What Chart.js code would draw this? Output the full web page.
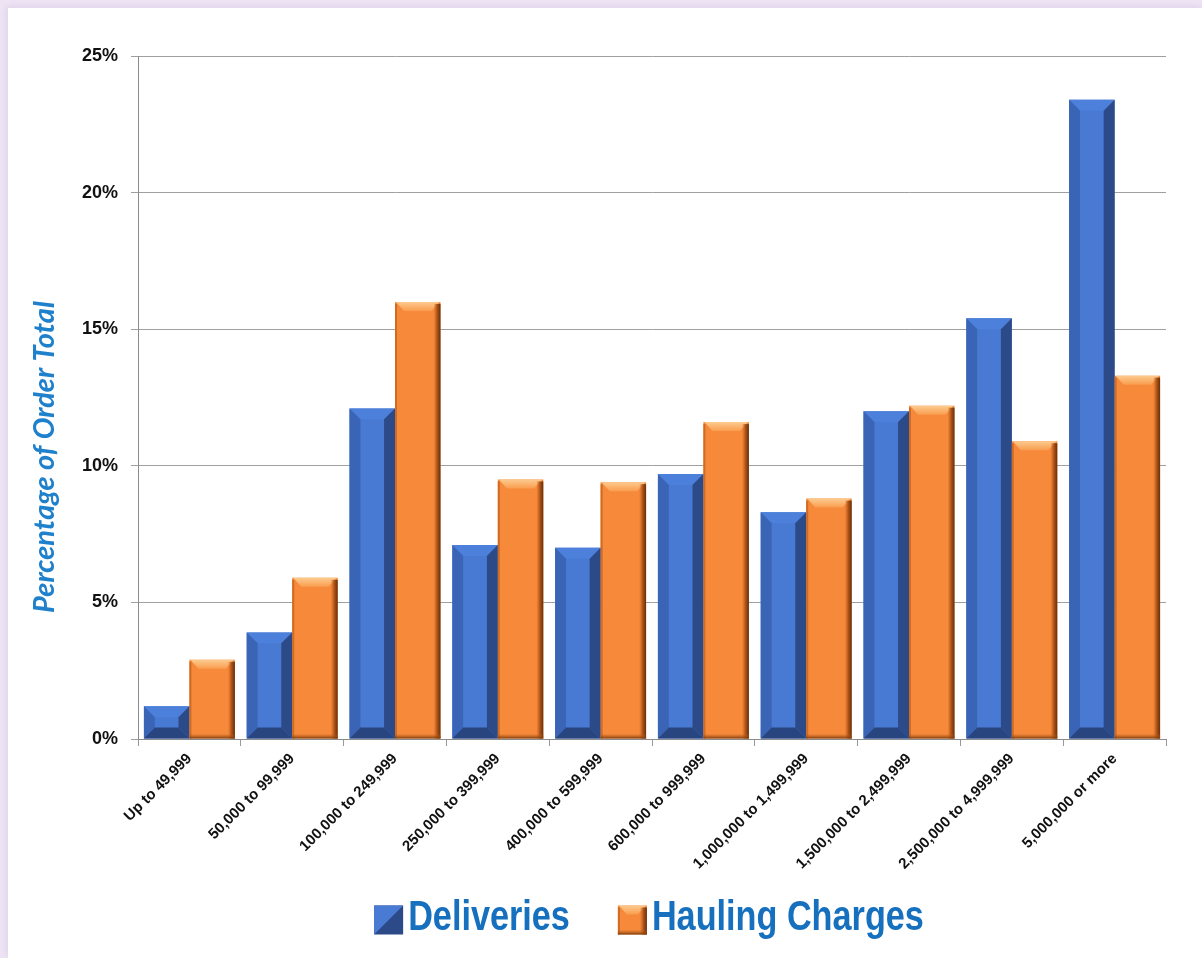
<!DOCTYPE html>
<html>
<head>
<meta charset="utf-8">
<script src="https://cdn.jsdelivr.net/npm/chart.js@4.4.0/dist/chart.umd.min.js"></script>
<style>
html, body { margin: 0; padding: 0; }
body { width: 1202px; height: 958px; background: #ede4f4; overflow: hidden; position: relative; }
#panel { position: absolute; left: 8px; top: 8px; width: 1194px; height: 950px; background: #fff; box-shadow: -2px -2px 6px #e0d3ea; }
canvas { display: block; }
</style>
</head>
<body>
<div id="panel"><canvas id="chart" width="1194" height="950"></canvas></div>
<script>
// datos
var categories = ['Up to 49,999', '50,000 to 99,999', '100,000 to 249,999', '250,000 to 399,999',
    '400,000 to 599,999', '600,000 to 999,999', '1,000,000 to 1,499,999', '1,500,000 to 2,499,999',
    '2,500,000 to 4,999,999', '5,000,000 or more'];
var deliveries = [1.2, 3.9, 12.1, 7.1, 7.0, 9.7, 8.3, 12.0, 15.4, 23.4];
var haulingCharges = [2.9, 5.9, 16.0, 9.5, 9.4, 11.6, 8.8, 12.2, 10.9, 13.3];
var seriesNames = ['Deliveries', 'Hauling Charges'];
var yTicks = [0, 5, 10, 15, 20, 25];
var yTitle = 'Percentage of Order Total';

var baseFont = "'Liberation Sans', Arial, sans-serif";

function poly(ctx, pts, color) {
    ctx.beginPath();
    ctx.moveTo(pts[0][0], pts[0][1]);
    for (var i = 1; i < pts.length; i++) ctx.lineTo(pts[i][0], pts[i][1]);
    ctx.closePath();
    ctx.fillStyle = color;
    ctx.fill();
}

// bisel de las barras azules
function blueBevel(ctx, l, t, r, b) {
    var bv = Math.min((r - l) * 0.24, (b - t) / 2);
    poly(ctx, [[l, t], [r, t], [r - bv, t + bv], [l + bv, t + bv]], '#4d80da');
    poly(ctx, [[l, t], [l + bv, t + bv], [l + bv, b - bv], [l, b]], '#3a64b5');
    poly(ctx, [[r, t], [r - bv, t + bv], [r - bv, b - bv], [r, b]], '#2b4a87');
    poly(ctx, [[l, b], [l + bv, b - bv], [r - bv, b - bv], [r, b]], '#29457f');
}

// bisel de las barras naranjas
function orangeBevel(ctx, l, t, r, b) {
    var h = b - t;
    var hb = Math.min(9, h / 3);
    var g = ctx.createLinearGradient(0, t, 0, t + hb);
    g.addColorStop(0, '#fdcb8f');
    g.addColorStop(1, '#f99d4f');
    ctx.beginPath();
    ctx.moveTo(l + 1, t);
    ctx.lineTo(r - 1, t);
    ctx.lineTo(r - hb, t + hb);
    ctx.lineTo(l + hb, t + hb);
    ctx.closePath();
    ctx.fillStyle = g;
    ctx.fill();
    // borde derecho oscuro
    var gr = ctx.createLinearGradient(r - 7, 0, r, 0);
    gr.addColorStop(0, 'rgba(200,100,30,0)');
    gr.addColorStop(0.5, '#b0541a');
    gr.addColorStop(1, '#663008');
    ctx.fillStyle = gr;
    ctx.fillRect(r - 7, t + 2, 7, h - 2);
    // borde izquierdo
    ctx.fillStyle = '#cf6b22';
    ctx.fillRect(l, t + 2, 2, h - 2);
    // borde inferior
    var gb = ctx.createLinearGradient(0, b - 5, 0, b);
    gb.addColorStop(0, 'rgba(200,100,30,0)');
    gb.addColorStop(1, '#7a3b0c');
    ctx.fillStyle = gb;
    ctx.fillRect(l, b - 5, r - l, 5);
}

var bevelPlugin = {
    id: 'bevel',
    afterDatasetsDraw: function (chart) {
        var ctx = chart.ctx;
        ctx.save();
        chart.data.datasets.forEach(function (ds, i) {
            var meta = chart.getDatasetMeta(i);
            meta.data.forEach(function (bar) {
                var p = bar.getProps(['x', 'y', 'base', 'width'], true);
                var l = p.x - p.width / 2, r = p.x + p.width / 2;
                if (i === 0) blueBevel(ctx, l, p.y, r, p.base);
                else orangeBevel(ctx, l, p.y, r, p.base);
            });
        });
        ctx.restore();
    }
};

// titulo del eje y y leyenda grande
var textPlugin = {
    id: 'textos',
    afterDraw: function (chart) {
        var ctx = chart.ctx;
        ctx.save();
        ctx.translate(37, 449);
        ctx.rotate(-Math.PI / 2);
        ctx.font = "italic bold 29px Lato, 'Open Sans', sans-serif";
        ctx.fillStyle = '#1f80cb';
        ctx.textAlign = 'center';
        ctx.textBaseline = 'middle';
        ctx.fillText(yTitle, 0, 0);
        ctx.restore();

        // leyenda: texto estrecho como en el original
        ctx.save();
        ctx.font = 'bold 42px ' + baseFont;
        ctx.textBaseline = 'middle';
        var sx = 0.815;
        var box = 29, gapText = 5, gapItem = 48;
        var widths = seriesNames.map(function (n) { return ctx.measureText(n).width * sx; });
        var total = widths[0] + widths[1] + 2 * (box + gapText) + gapItem;
        var x = 641 - total / 2;
        var yc = chart.height - 40;
        seriesNames.forEach(function (name, i) {
            var t = yc - box / 2 + 2;
            if (i === 0) {
                ctx.fillStyle = '#2b4a87';
                ctx.fillRect(x, t, box, box);
                poly(ctx, [[x, t], [x + box, t], [x, t + box]], '#4a7bd4');
            } else {
                ctx.fillStyle = '#f6893a';
                ctx.fillRect(x, t, box, box);
                orangeBevel(ctx, x, t, x + box, t + box);
            }
            ctx.save();
            ctx.translate(x + box + gapText, yc);
            ctx.scale(sx, 1);
            ctx.fillStyle = '#1670be';
            ctx.fillText(name, 0, 0);
            ctx.restore();
            x += box + gapText + widths[i] + gapItem;
        });
        ctx.restore();
    }
};

var ctx = document.getElementById('chart').getContext('2d');
var myChart = new Chart(ctx, {
    type: 'bar',
    data: {
        labels: categories,
        datasets: [{
            label: seriesNames[0],
            data: deliveries,
            backgroundColor: '#497ad3',
            borderWidth: 0,
            barPercentage: 1.0,
            categoryPercentage: 0.885
        }, {
            label: seriesNames[1],
            data: haulingCharges,
            backgroundColor: '#f6893a',
            borderWidth: 0,
            barPercentage: 1.0,
            categoryPercentage: 0.885
        }]
    },
    options: {
        responsive: false,
        animation: false,
        layout: { padding: { left: 0, right: 36, top: 48, bottom: 20 } },
        plugins: {
            legend: { display: false },
            tooltip: { enabled: false }
        },
        scales: {
            x: {
                grid: { display: true, drawOnChartArea: false, drawTicks: true, tickLength: 7, color: '#999', offset: true },
                border: { color: '#8c8c8c', width: 1 },
                ticks: {
                    color: '#111',
                    font: { family: baseFont, size: 15, weight: 'bold' },
                    minRotation: 45,
                    maxRotation: 45,
                    padding: 4,
                    autoSkip: false
                },
                afterFit: function (scale) { scale.height = 199; }
            },
            y: {
                min: 0,
                max: 25,
                afterBuildTicks: function (scale) {
                    scale.ticks = yTicks.map(function (v) { return { value: v }; });
                },
                grid: { color: '#a0a0a0', lineWidth: 1, tickLength: 7 },
                border: { color: '#8c8c8c', width: 1 },
                ticks: {
                    color: '#111',
                    font: { family: baseFont, size: 18, weight: 'bold' },
                    padding: 13,
                    callback: function (v) { return v + '%'; }
                },
                afterFit: function (scale) { scale.width = 130; }
            }
        }
    },
    plugins: [bevelPlugin, textPlugin]
});
</script>
</body>
</html>
